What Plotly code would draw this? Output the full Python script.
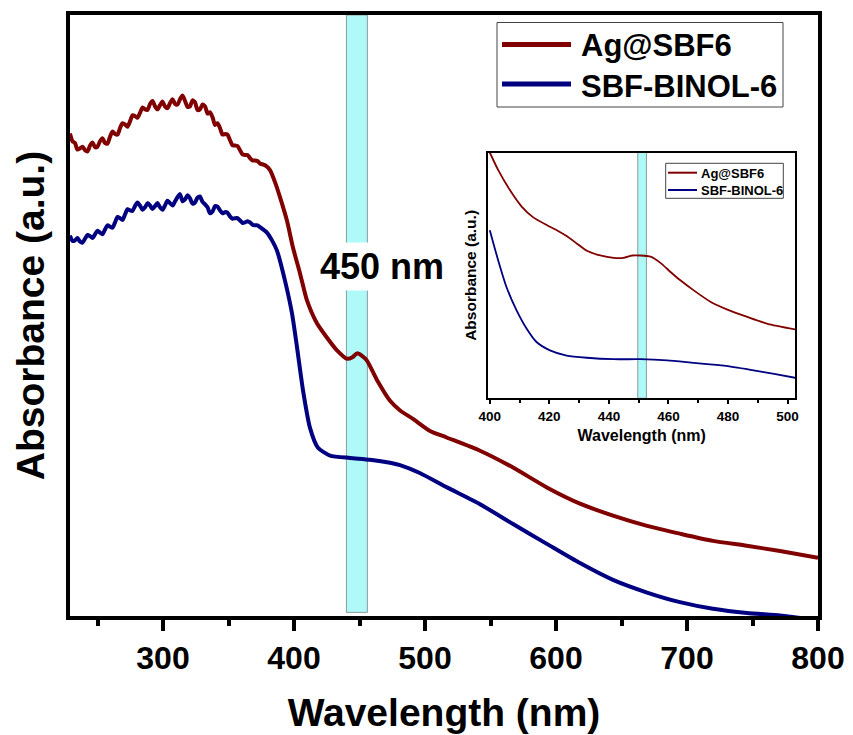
import plotly.graph_objects as go

# ---------------- data ----------------
wl_ag = [229, 230.9, 232.8, 234.7, 236.6, 238.5, 240.5, 242.4, 244.3, 246.2,
         248.1, 250.0, 251.9, 253.8, 255.7, 257.6, 259.5, 261.5, 263.4, 265.3,
         267.2, 269.1, 271.0, 272.9, 274.8, 276.7, 278.6, 280.5, 282.4, 284.4,
         286.3, 288.2, 290.1, 292.0, 293.9, 295.8, 297.7, 299.6, 301.5, 303.4,
         305.3, 307.3, 309.2, 311.1, 313.0, 314.9, 316.8, 318.7, 320.6, 322.5,
         324.4, 326.3, 328.2, 330.2, 332.1, 334.0, 335.9, 337.8, 339.7, 341.6,
         343.5, 345.4, 347.3, 349.2, 351.1, 353.1, 355.0, 356.9, 358.8, 360.7,
         362.6, 364.5, 366.4, 368.3, 370.2, 372.1, 374.0, 377.9, 381.7, 385.5,
         389.3, 394.6, 399.2, 404.6, 409.9, 417.5, 425.2, 432.8, 440.5, 444.3,
         448.1, 451.9, 455.7, 464.0, 473.3, 481.0, 490.8, 503.8, 516.5, 542.0,
         567.2, 593.0, 618.3, 643.5, 669.5, 694.6, 719.8, 745.6, 771.0, 800.0]
abs_ag = [0.803, 0.790, 0.787, 0.776, 0.778, 0.781, 0.775, 0.773, 0.783, 0.788,
          0.780, 0.781, 0.790, 0.795, 0.787, 0.786, 0.797, 0.806, 0.802, 0.801,
          0.812, 0.820, 0.818, 0.814, 0.823, 0.833, 0.832, 0.829, 0.837, 0.846,
          0.843, 0.842, 0.852, 0.857, 0.848, 0.843, 0.850, 0.856, 0.848, 0.845,
          0.853, 0.860, 0.852, 0.851, 0.860, 0.866, 0.857, 0.847, 0.848, 0.858,
          0.855, 0.842, 0.843, 0.851, 0.848, 0.836, 0.838, 0.830, 0.817, 0.820,
          0.812, 0.801, 0.802, 0.801, 0.792, 0.783, 0.783, 0.782, 0.775, 0.768,
          0.767, 0.767, 0.762, 0.758, 0.758, 0.757, 0.753, 0.750, 0.742, 0.722,
          0.697, 0.658, 0.613, 0.570, 0.525, 0.487, 0.463, 0.442, 0.428, 0.430,
          0.437, 0.433, 0.425, 0.390, 0.358, 0.342, 0.328, 0.308, 0.297, 0.275,
          0.247, 0.214, 0.187, 0.167, 0.150, 0.137, 0.125, 0.117, 0.108, 0.097]

wl_sbf = [229, 230.9, 232.8, 234.7, 236.6, 238.5, 240.5, 242.4, 244.3, 246.2,
          248.1, 250.0, 251.9, 253.8, 255.7, 257.6, 259.5, 261.5, 263.4, 265.3,
          267.2, 269.1, 271.0, 272.9, 274.8, 276.7, 278.6, 280.5, 282.4, 284.4,
          286.3, 288.2, 290.1, 292.0, 293.9, 295.8, 297.7, 299.6, 301.5, 303.4,
          305.3, 307.3, 309.2, 311.1, 313.0, 314.9, 316.8, 318.7, 320.6, 322.5,
          324.4, 326.3, 328.2, 330.2, 332.1, 334.0, 335.9, 337.8, 339.7, 341.6,
          343.5, 345.4, 347.3, 349.2, 351.1, 353.1, 355.0, 356.9, 358.8, 360.7,
          362.6, 364.5, 366.4, 368.3, 370.2, 372.1, 374.0, 379.3, 383.2, 387.0,
          393.1, 398.5, 402.3, 406.9, 412.2, 418.3, 427.5, 442.7, 458.0, 473.3,
          480.9, 496.0, 516.8, 542.0, 567.2, 593.0, 618.3, 643.5, 669.5, 694.6,
          719.8, 745.8, 771.0, 785.0, 800.0]
abs_sbf = [0.633, 0.624, 0.625, 0.629, 0.623, 0.621, 0.628, 0.634, 0.632, 0.629,
           0.635, 0.641, 0.638, 0.635, 0.643, 0.650, 0.648, 0.646, 0.655, 0.664,
           0.662, 0.659, 0.668, 0.677, 0.675, 0.674, 0.682, 0.688, 0.683, 0.676,
           0.680, 0.687, 0.683, 0.677, 0.682, 0.687, 0.680, 0.676, 0.683, 0.691,
           0.687, 0.683, 0.690, 0.697, 0.702, 0.690, 0.693, 0.700, 0.695, 0.686,
           0.688, 0.696, 0.698, 0.689, 0.685, 0.680, 0.670, 0.673, 0.682, 0.681,
           0.675, 0.670, 0.672, 0.671, 0.665, 0.661, 0.662, 0.662, 0.658, 0.654,
           0.655, 0.657, 0.655, 0.651, 0.650, 0.650, 0.647, 0.638, 0.625, 0.608,
           0.558, 0.503, 0.447, 0.375, 0.313, 0.280, 0.267, 0.263, 0.260, 0.255,
           0.251, 0.238, 0.214, 0.186, 0.153, 0.120, 0.088, 0.060, 0.039, 0.023,
           0.012, 0.005, 0.001, -0.003, -0.007]

# inset (zoom 400-500 nm)
wl_ag_in = [400, 402.8, 406.7, 410.7, 414.6, 419.1, 422.5, 425.8, 429.2, 432.6,
            437.1, 441.6, 444.9, 447.8, 450.6, 454.0, 457.3, 460.7, 464.0, 468.5,
            474.2, 479.8, 486.5, 493.3, 502.8]
abs_ag_in = [1.0, 0.929, 0.848, 0.780, 0.736, 0.705, 0.684, 0.660, 0.630, 0.600,
             0.581, 0.571, 0.571, 0.581, 0.581, 0.576, 0.551, 0.514, 0.480, 0.439,
             0.392, 0.361, 0.331, 0.303, 0.280]
wl_sbf_in = [400, 402.8, 405.6, 409.0, 412.4, 415.7, 420.2, 425.8, 432.6, 441.6,
             450.6, 459.6, 468.5, 478.7, 487.6, 495.5, 502.8]
abs_sbf_in = [0.684, 0.562, 0.453, 0.358, 0.283, 0.229, 0.195, 0.174, 0.165, 0.159,
              0.159, 0.154, 0.144, 0.133, 0.116, 0.099, 0.083]

assert len(wl_ag) == len(abs_ag) and len(wl_sbf) == len(abs_sbf)
assert len(wl_ag_in) == len(abs_ag_in) and len(wl_sbf_in) == len(abs_sbf_in)

series_names = ["Ag@SBF6", "SBF-BINOL-6"]
band_main = [440, 456]
band_inset = [449.7, 452.6]
band_label = "450 nm"
main_ticks = [300, 400, 500, 600, 700, 800]
inset_ticks = [400, 420, 440, 460, 480, 500]

# ---------------- style ----------------
RED = "#800000"
BLUE = "#000080"
BAND = "#AFF9F9"
FONT = "Liberation Sans, Arial, sans-serif"

W, H = 853, 735
ML, MR, MT, MB = 70, 35, 15, 119
PW, PH = W - ML - MR, H - MT - MB


def px2x(px):
    return (px - ML) / PW


def py2y(py):
    return (H - MB - py) / PH


fig = go.Figure()

fig.add_trace(go.Scatter(x=wl_ag, y=abs_ag, mode="lines", name=series_names[0],
                         line=dict(color=RED, width=4, shape="spline", smoothing=0.6),
                         showlegend=False, xaxis="x", yaxis="y"))
fig.add_trace(go.Scatter(x=wl_sbf, y=abs_sbf, mode="lines", name=series_names[1],
                         line=dict(color=BLUE, width=4, shape="spline", smoothing=0.6),
                         showlegend=False, xaxis="x", yaxis="y"))
fig.add_trace(go.Scatter(x=wl_ag_in, y=abs_ag_in, mode="lines", name=series_names[0],
                         line=dict(color=RED, width=1.8, shape="spline", smoothing=0.6),
                         showlegend=False, xaxis="x2", yaxis="y2"))
fig.add_trace(go.Scatter(x=wl_sbf_in, y=abs_sbf_in, mode="lines", name=series_names[1],
                         line=dict(color=BLUE, width=1.8, shape="spline", smoothing=0.6),
                         showlegend=False, xaxis="x2", yaxis="y2"))

shapes = [
    dict(type="rect", xref="x", yref="y", x0=band_main[0], x1=band_main[1],
         y0=0.006, y1=1.0, fillcolor=BAND, line=dict(color="#8a9c9c", width=1),
         layer="below"),
    dict(type="rect", xref="x2", yref="y2", x0=band_inset[0], x1=band_inset[1],
         y0=0, y1=1.0, fillcolor=BAND, line=dict(color="#8a9c9c", width=1),
         layer="below"),
    # main legend
    dict(type="rect", xref="paper", yref="paper", x0=px2x(497), x1=px2x(783),
         y0=py2y(107), y1=py2y(22.5), fillcolor="white",
         line=dict(color="#444", width=1), layer="above"),
    dict(type="line", xref="paper", yref="paper", x0=px2x(502), x1=px2x(571),
         y0=py2y(44.5), y1=py2y(44.5), line=dict(color=RED, width=5)),
    dict(type="line", xref="paper", yref="paper", x0=px2x(502), x1=px2x(571),
         y0=py2y(84), y1=py2y(84), line=dict(color=BLUE, width=5)),
    # inset legend
    dict(type="rect", xref="paper", yref="paper", x0=px2x(665.7), x1=px2x(783.3),
         y0=py2y(198.3), y1=py2y(163.3), fillcolor="white",
         line=dict(color="#444", width=1), layer="above"),
    dict(type="line", xref="paper", yref="paper", x0=px2x(668), x1=px2x(697),
         y0=py2y(172.7), y1=py2y(172.7), line=dict(color=RED, width=2)),
    dict(type="line", xref="paper", yref="paper", x0=px2x(668), x1=px2x(697),
         y0=py2y(190), y1=py2y(190), line=dict(color=BLUE, width=2)),
]

annotations = [
    dict(text=band_label, xref="x", yref="paper", x=467.5, y=py2y(266.7),
         showarrow=False, font=dict(family=FONT, size=36, color="black", weight="bold"),
         bgcolor="white", borderpad=3, xanchor="center", yanchor="middle"),
    dict(text=series_names[0], xref="paper", yref="paper", x=px2x(579), y=py2y(46),
         showarrow=False, xanchor="left", yanchor="middle",
         font=dict(family=FONT, size=31, color="black", weight="bold")),
    dict(text=series_names[1], xref="paper", yref="paper", x=px2x(579), y=py2y(86),
         showarrow=False, xanchor="left", yanchor="middle",
         font=dict(family=FONT, size=31, color="black", weight="bold")),
    dict(text=series_names[0], xref="paper", yref="paper", x=px2x(699), y=py2y(173),
         showarrow=False, xanchor="left", yanchor="middle",
         font=dict(family=FONT, size=13, color="black", weight="bold")),
    dict(text=series_names[1], xref="paper", yref="paper", x=px2x(699), y=py2y(190.5),
         showarrow=False, xanchor="left", yanchor="middle",
         font=dict(family=FONT, size=13, color="black", weight="bold")),
]

inset_x0, inset_x1 = px2x(488.3), px2x(795)
inset_y0, inset_y1 = py2y(398.3), py2y(152.5)

fig.update_layout(
    width=W, height=H,
    margin=dict(l=ML, r=MR, t=MT, b=MB, autoexpand=False),
    paper_bgcolor="white", plot_bgcolor="white",
    font=dict(family=FONT, color="black"),
    showlegend=False,
    shapes=shapes,
    annotations=annotations,
    xaxis=dict(
        domain=[0, 1], range=[229, 800], anchor="y",
        tickmode="array", tickvals=main_ticks,
        ticks="outside", ticklen=11, tickwidth=4, tickcolor="black",
        minor=dict(dtick=50, tick0=250, ticks="outside", ticklen=6, tickwidth=4,
                   tickcolor="black"),
        showline=True, linewidth=4, linecolor="black", mirror=True,
        showgrid=False, zeroline=False,
        tickfont=dict(family=FONT, size=32, color="black", weight="bold"),
        title=dict(text="Wavelength (nm)", standoff=24,
                   font=dict(family=FONT, size=39, color="black", weight="bold")),
    ),
    yaxis=dict(
        domain=[0, 1], range=[0, 1], anchor="x",
        showticklabels=False, ticks="",
        showline=True, linewidth=4, linecolor="black", mirror=True,
        showgrid=False, zeroline=False,
        title=dict(text="Absorbance (a.u.)", standoff=10,
                   font=dict(family=FONT, size=39, color="black", weight="bold")),
    ),
    xaxis2=dict(
        domain=[inset_x0, inset_x1], range=[399.5, 502.5], anchor="y2",
        tickmode="array", tickvals=inset_ticks,
        ticks="outside", ticklen=4, tickwidth=1.5, tickcolor="black",
        minor=dict(dtick=10, tick0=410, ticks="outside", ticklen=2.5, tickwidth=1.5,
                   tickcolor="black"),
        showline=True, linewidth=2, linecolor="black", mirror=True,
        showgrid=False, zeroline=False,
        tickfont=dict(family=FONT, size=13.5, color="black", weight="bold"),
        title=dict(text="Wavelength (nm)", standoff=7,
                   font=dict(family=FONT, size=16, color="black", weight="bold")),
    ),
    yaxis2=dict(
        domain=[inset_y0, inset_y1], range=[0, 1.0], anchor="x2",
        showticklabels=False, ticks="",
        showline=True, linewidth=2, linecolor="black", mirror=True,
        showgrid=False, zeroline=False,
        title=dict(text="Absorbance (a.u.)", standoff=6,
                   font=dict(family=FONT, size=15.5, color="black", weight="bold")),
    ),
)

fig.write_html("out.html")
